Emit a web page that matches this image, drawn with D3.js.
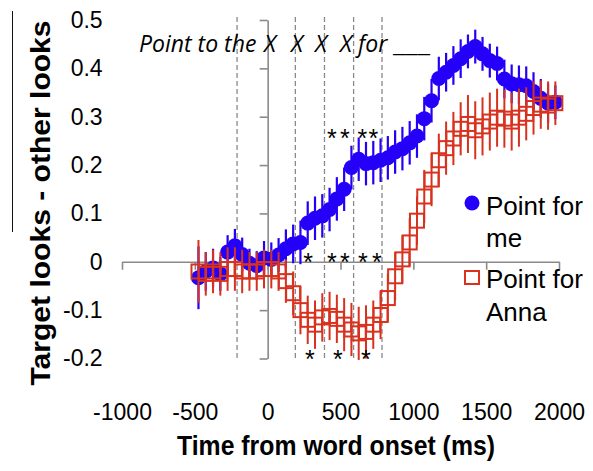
<!DOCTYPE html>
<html><head><meta charset="utf-8">
<script src="https://cdn.jsdelivr.net/npm/d3@7"></script>
<style>body{margin:0;background:#fff;} svg{display:block;}</style>
</head><body>
<svg id="c" width="593" height="471"></svg>
<script>
// ---- data ----
const times = d3.range(50).map(i => -475 + 50 * i);
const meValues = [-0.033,-0.02,-0.013,-0.025,0.02,0.033,0.015,-0.003,-0.008,0.008,
  0.005,0.014,0.027,0.037,0.04,0.08,0.09,0.095,0.108,0.13,
  0.15,0.195,0.212,0.203,0.205,0.21,0.215,0.227,0.234,0.246,
  0.26,0.296,0.333,0.379,0.392,0.406,0.42,0.435,0.445,0.43,
  0.416,0.41,0.378,0.368,0.366,0.364,0.352,0.338,0.328,0.33];
const meErr = [0.065,0.04,0.04,0.035,0.035,0.035,0.035,0.03,0.03,0.035,
  0.035,0.035,0.04,0.04,0.045,0.045,0.045,0.045,0.045,0.045,
  0.045,0.045,0.045,0.045,0.045,0.045,0.045,0.045,0.045,0.045,
  0.045,0.045,0.045,0.045,0.04,0.04,0.04,0.035,0.035,0.035,
  0.035,0.035,0.04,0.04,0.04,0.04,0.04,0.04,0.04,0.035];
const annaValues = [-0.02,-0.025,-0.02,-0.025,-0.015,-0.015,-0.02,-0.02,-0.02,-0.015,
  -0.015,-0.02,-0.04,-0.065,-0.1,-0.12,-0.13,-0.115,-0.112,-0.118,
  -0.13,-0.14,-0.148,-0.145,-0.13,-0.11,-0.075,-0.03,0.005,0.04,
  0.085,0.135,0.17,0.21,0.235,0.255,0.275,0.285,0.272,0.28,
  0.29,0.298,0.296,0.29,0.298,0.306,0.318,0.325,0.323,0.328];
const annaErr = [0.065,0.045,0.045,0.045,0.045,0.045,0.045,0.04,0.04,0.04,
  0.04,0.04,0.045,0.045,0.05,0.05,0.05,0.05,0.05,0.05,
  0.055,0.055,0.055,0.055,0.05,0.05,0.05,0.05,0.05,0.05,
  0.05,0.055,0.055,0.055,0.055,0.055,0.055,0.06,0.06,0.06,
  0.06,0.06,0.06,0.06,0.06,0.055,0.055,0.05,0.05,0.045];
const xTicks = [-1000,-500,0,500,1000,1500,2000];
const xTickLabels = ["-1000","-500","0","500","1000","1500","2000"];
const yTicks = [-0.2,-0.1,0,0.1,0.2,0.3,0.4,0.5];
const yTickLabels = ["-0.2","-0.1","0","0.1","0.2","0.3","0.4","0.5"];
const dashedTimes = [-210,190,390,590,785];
const starsTop = [{t:441,v:0.266},{t:530,v:0.266},{t:650,v:0.266},{t:725,v:0.266}];
const starsMid = [{t:277,v:0.01},{t:441,v:0.01},{t:530,v:0.01},{t:654,v:0.01},{t:750,v:0.01}];
const starsBot = [{t:290,v:-0.19},{t:482,v:-0.19},{t:674,v:-0.19}];
const legendLabels = [["Point for","me"],["Point for","Anna"]];

// ---- drawing ----
const svg = d3.select("#c");
const x = d3.scaleLinear().domain([-1000,2000]).range([122,559]);
const y = d3.scaleLinear().domain([-0.2,0.5]).range([358.5,20]);
const BLUE = "#2400f8", RED = "#d8321f", GRAY = "#8a8a8a";

// stray frame line at left
svg.append("line").attr("x1",12.5).attr("x2",12.5).attr("y1",11).attr("y2",232)
  .attr("stroke","#111").attr("stroke-width",1);

// dashed lines
svg.selectAll("line.dash").data(dashedTimes).join("line").attr("class","dash")
  .attr("x1",d=>x(d)).attr("x2",d=>x(d)).attr("y1",y(0.506)).attr("y2",y(-0.2))
  .attr("stroke",GRAY).attr("stroke-width",1.3).attr("stroke-dasharray","5,3");

// axes
const xAxis = svg.append("g").attr("transform",`translate(0,${y(0)})`)
  .call(d3.axisBottom(x).tickValues(xTicks).tickSize(8).tickSizeOuter(0).tickPadding(134)
    .tickFormat((d,i)=>xTickLabels[i]));
const yAxis = svg.append("g").attr("transform",`translate(${x(0)},0)`)
  .call(d3.axisLeft(y).tickValues(yTicks).tickSize(8).tickSizeOuter(0).tickPadding(157)
    .tickFormat((d,i)=>yTickLabels[i]));
[xAxis,yAxis].forEach(g=>{
  g.selectAll("path,line").attr("stroke",GRAY).attr("stroke-width",1.6);
  g.selectAll("text").attr("font-family","Liberation Sans, Arial, sans-serif")
   .attr("font-size",23).attr("fill","#000");
});

// blue series
const me = times.map((t,i)=>({t,v:meValues[i],e:meErr[i]}));
const anna = times.map((t,i)=>({t,v:annaValues[i],e:annaErr[i]}));
svg.append("g").selectAll("line").data(me).join("line")
  .attr("x1",d=>x(d.t)).attr("x2",d=>x(d.t)).attr("y1",d=>y(d.v-d.e)).attr("y2",d=>y(d.v+d.e))
  .attr("stroke",BLUE).attr("stroke-width",2.2);
svg.append("g").selectAll("circle").data(me).join("circle")
  .attr("cx",d=>x(d.t)).attr("cy",d=>y(d.v)).attr("r",7.5).attr("fill",BLUE);

// red series
svg.append("g").selectAll("line").data(anna).join("line")
  .attr("x1",d=>x(d.t)).attr("x2",d=>x(d.t)).attr("y1",d=>y(d.v-d.e)).attr("y2",d=>y(d.v+d.e))
  .attr("stroke",RED).attr("stroke-width",2);
svg.append("g").selectAll("rect").data(anna).join("rect")
  .attr("x",d=>x(d.t)-7).attr("y",d=>y(d.v)-7).attr("width",14).attr("height",14)
  .attr("fill","none").attr("stroke",RED).attr("stroke-width",2);

// stars
svg.append("g").selectAll("text").data(starsTop.concat(starsMid,starsBot)).join("text")
  .attr("x",d=>x(d.t)).attr("y",d=>y(d.v)+14).attr("text-anchor","middle")
  .attr("font-family","Liberation Sans, Arial, sans-serif").attr("font-size",25).attr("fill","#000")
  .text("*");

// title phrase
const tt = svg.append("text").attr("y",52).attr("font-family","'Open Sans', Lato, sans-serif")
  .attr("font-style","italic").attr("font-size",23).attr("fill","#000");
[["Point to the",139],["X",264],["X",291],["X",315],["X",340],["for",358]]
  .forEach(([s,px])=>tt.append("tspan").attr("x",px).text(s));
svg.append("text").attr("x",393).attr("y",52).attr("font-family","'Open Sans', Lato, sans-serif")
  .attr("font-size",23).attr("textLength",37).attr("lengthAdjust","spacingAndGlyphs")
  .attr("fill","#000").text("___");

// legend
const lg = svg.append("g");
lg.append("circle").attr("cx",472).attr("cy",203).attr("r",7.5).attr("fill",BLUE);
lg.append("rect").attr("x",465).attr("y",271).attr("width",14).attr("height",13)
  .attr("fill","none").attr("stroke",RED).attr("stroke-width",2);
const legY = [[215,247],[288,321]];
legendLabels.forEach((lines,k)=>{
  lines.forEach((s,j)=>lg.append("text").attr("x",486).attr("y",legY[k][j])
    .attr("font-family","Liberation Sans, Arial, sans-serif").attr("font-size",26).attr("fill","#000").text(s));
});

// axis titles
svg.append("text").attr("x",336).attr("y",455).attr("text-anchor","middle")
  .attr("font-family","Liberation Sans, Arial, sans-serif").attr("font-weight","bold")
  .attr("font-size",28).attr("textLength",318).attr("lengthAdjust","spacingAndGlyphs")
  .text("Time from word onset (ms)");
svg.append("text").attr("transform","translate(50,203) rotate(-90)").attr("text-anchor","middle")
  .attr("font-family","Liberation Sans, Arial, sans-serif").attr("font-weight","bold")
  .attr("font-size",28).attr("textLength",365).attr("lengthAdjust","spacingAndGlyphs")
  .text("Target looks - other looks");
</script>
</body></html>
